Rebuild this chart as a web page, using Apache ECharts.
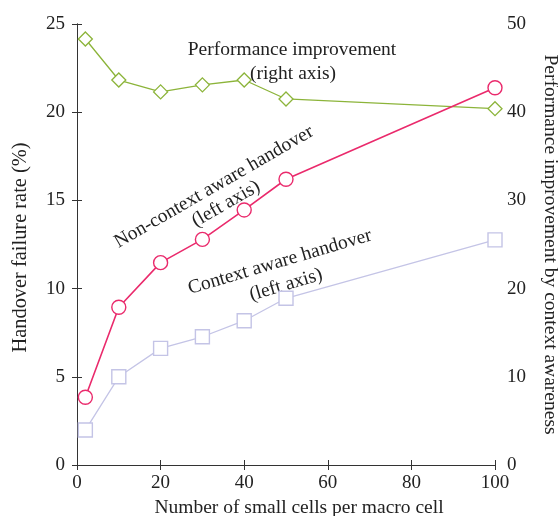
<!DOCTYPE html>
<html>
<head>
<meta charset="utf-8">
<script src="https://cdn.jsdelivr.net/npm/echarts@6/dist/echarts.min.js"></script>
<style>
  html, body { margin: 0; padding: 0; background: #fff; }
  #chart { width: 558px; height: 516px; }
</style>
</head>
<body>
<div id="chart"></div>
<script>
// small cells per macro cell
const cells = [2, 10, 20, 30, 40, 50, 100]
// handover failure rate (%), left axis
const nonContext = [3.84, 8.94, 11.47, 12.79, 14.46, 16.2, 21.39]
const contextAware = [1.98, 5.0, 6.61, 7.27, 8.18, 9.45, 12.76]
// performance improvement, right axis
const improvement = [48.3, 43.65, 42.3, 43.1, 43.65, 41.5, 40.4]

const pairs = (ys) => cells.map((x, i) => [x, ys[i]])

const serif = 'Liberation Serif'
const ink = '#222'
const titleFont = '19.5px "Liberation Serif"'
const tick = { inside: true, length: 5, lineStyle: { color: '#333' } }
const axisLine = { show: true, lineStyle: { color: '#333', width: 1 } }

const myChart = echarts.init(document.getElementById('chart'))
const option = {
  animation: false,
  grid: { left: 77, right: 63, top: 24, bottom: 51, show: false, outerBoundsMode: 'none', containLabel: false },
  xAxis: [
    {
      type: 'value', min: 0, max: 100, interval: 20,
      name: 'Number of small cells per macro cell',
      nameLocation: 'middle', nameGap: 29,
      nameTextStyle: { color: ink, fontFamily: serif, fontSize: 19.5, padding: [0, 0, 0, 26] },
      axisLine: axisLine,
      axisTick: tick,
      axisLabel: { color: ink, fontFamily: serif, fontSize: 19, margin: 9 },
      splitLine: { show: false }
    },
    {
      type: 'value', min: 0, max: 100, interval: 20, position: 'top',
      axisLine: axisLine,
      axisTick: tick,
      axisLabel: { show: false },
      splitLine: { show: false }
    }
  ],
  yAxis: [
    {
      type: 'value', min: 0, max: 25, interval: 5,
      name: 'Handover failure rate (%)',
      nameLocation: 'middle', nameRotate: 90, nameGap: 46,
      nameTextStyle: { color: ink, fontFamily: serif, fontSize: 20.4, padding: [0, 6, 0, 0] },
      axisLine: axisLine,
      axisTick: tick,
      axisLabel: { color: ink, fontFamily: serif, fontSize: 19, margin: 12 },
      splitLine: { show: false }
    },
    {
      type: 'value', min: 0, max: 50, interval: 10, position: 'right',
      name: 'Performance improvement by context awareness',
      nameLocation: 'middle', nameRotate: -90, nameGap: 45,
      nameTextStyle: { color: ink, fontFamily: serif, fontSize: 19.5 },
      axisLine: axisLine,
      axisTick: tick,
      axisLabel: { color: ink, fontFamily: serif, fontSize: 19, margin: 12 },
      splitLine: { show: false }
    }
  ],
  series: [
    {
      name: 'Performance improvement',
      type: 'line', yAxisIndex: 1,
      data: pairs(improvement),
      symbol: 'diamond', symbolSize: 14,
      lineStyle: { color: '#8cb43a', width: 1.3 },
      itemStyle: { color: '#fff', borderColor: '#8cb43a', borderWidth: 1.3 },
      z: 3
    },
    {
      name: 'Non-context aware handover',
      type: 'line', yAxisIndex: 0,
      data: pairs(nonContext),
      symbol: 'circle', symbolSize: 14,
      lineStyle: { color: '#ea2a6c', width: 1.6 },
      itemStyle: { color: '#fff', borderColor: '#ea2a6c', borderWidth: 1.4 },
      z: 4
    },
    {
      name: 'Context aware handover',
      type: 'line', yAxisIndex: 0,
      data: pairs(contextAware),
      symbol: 'rect', symbolSize: 14,
      lineStyle: { color: '#c4c4e6', width: 1.3 },
      itemStyle: { color: '#fff', borderColor: '#c4c4e6', borderWidth: 1.4 },
      z: 2
    }
  ],
  graphic: [
    { type: 'text', x: 292, y: 50, style: { text: 'Performance improvement', align: 'center', verticalAlign: 'middle', fill: ink, font: titleFont } },
    { type: 'text', x: 293, y: 74, style: { text: '(right axis)', align: 'center', verticalAlign: 'middle', fill: ink, font: titleFont } },
    { type: 'text', x: 214, y: 187, rotation: 30 * Math.PI / 180, style: { text: 'Non-context aware handover', align: 'center', verticalAlign: 'middle', fill: ink, font: titleFont } },
    { type: 'text', x: 226, y: 204, rotation: 30 * Math.PI / 180, style: { text: '(left axis)', align: 'center', verticalAlign: 'middle', fill: ink, font: titleFont } },
    { type: 'text', x: 280, y: 262, rotation: 16.5 * Math.PI / 180, style: { text: 'Context aware handover', align: 'center', verticalAlign: 'middle', fill: ink, font: titleFont } },
    { type: 'text', x: 286, y: 285, rotation: 16.5 * Math.PI / 180, style: { text: '(left axis)', align: 'center', verticalAlign: 'middle', fill: ink, font: titleFont } }
  ]
}
myChart.setOption(option)
</script>
</body>
</html>
